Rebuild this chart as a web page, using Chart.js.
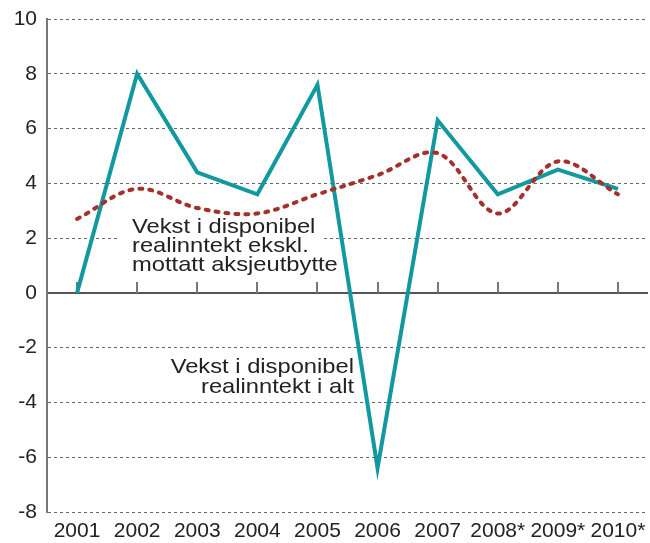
<!DOCTYPE html>
<html>
<head>
<meta charset="utf-8">
<script src="https://cdn.jsdelivr.net/npm/chart.js@4/dist/chart.umd.min.js"></script>
<style>
  html, body { margin: 0; padding: 0; background: #fff; }
  canvas { display: block; }
</style>
</head>
<body>
<canvas id="chart" width="650" height="543"></canvas>
<script>
const years = ['2001', '2002', '2003', '2004', '2005', '2006', '2007', '2008*', '2009*', '2010*'];
const totalGrowth = [0, 8, 4.4, 3.6, 7.6, -6.4, 6.3, 3.6, 4.5, 3.8];
const exDividends = [2.7, 3.8, 3.1, 2.9, 3.6, 4.3, 5.1, 2.9, 4.8, 3.6];
const yMin = -8;
const yMax = 10;
const yStep = 2;

const labelExDiv = ['Vekst i disponibel', 'realinntekt ekskl.', 'mottatt aksjeutbytte'];
const labelTotal = ['Vekst i disponibel', 'realinntekt i alt'];

const textColor = '#222';
const font = 'Arial, "Liberation Sans", sans-serif';

// text in the notes is a bit wider than the axis labels
function drawNote(ctx, lines, x, y, lineGap, align) {
  const stretch = 1.13;
  ctx.save();
  ctx.translate(x, y);
  ctx.scale(stretch, 1);
  ctx.textAlign = align;
  lines.forEach((t, i) => ctx.fillText(t, 0, i * lineGap));
  ctx.restore();
}

// zero axis ticks, white box behind first note, and the notes
const decorations = {
  id: 'decorations',
  beforeDatasetsDraw(chart) {
    const { ctx, scales: { x, y } } = chart;
    const y0 = y.getPixelForValue(0);
    ctx.save();
    ctx.strokeStyle = '#777';
    ctx.lineWidth = 2;
    years.forEach((_, i) => {
      const px = Math.round(x.getPixelForValue(i));
      ctx.beginPath();
      ctx.moveTo(px, y0 - 11);
      ctx.lineTo(px, y0);
      ctx.stroke();
    });
    ctx.fillStyle = '#fff';
    ctx.fillRect(117, 213, 206, 64);
    ctx.restore();
  },
  afterDatasetsDraw(chart) {
    const { ctx } = chart;
    ctx.save();
    ctx.fillStyle = textColor;
    ctx.font = '21px ' + font;
    ctx.textBaseline = 'alphabetic';
    drawNote(ctx, labelExDiv, 132, 233, 19, 'left');
    drawNote(ctx, labelTotal, 354, 373, 20, 'right');
    ctx.restore();
  }
};

new Chart(document.getElementById('chart'), {
  type: 'line',
  data: {
    labels: years,
    datasets: [
      {
        label: 'Vekst i disponibel realinntekt ekskl. mottatt aksjeutbytte',
        data: exDividends,
        borderColor: '#a3302a',
        borderWidth: 4,
        borderDash: [3, 7],
        borderCapStyle: 'round',
        tension: 0.35,
        pointRadius: 0,
        fill: false,
      },
      {
        label: 'Vekst i disponibel realinntekt i alt',
        data: totalGrowth,
        borderColor: '#12989f',
        borderWidth: 4,
        tension: 0,
        pointRadius: 0,
        fill: false,
      },
    ],
  },
  options: {
    responsive: false,
    animation: false,
    layout: { padding: { top: 19, right: 2, left: 0, bottom: 0 } },
    scales: {
      x: {
        offset: true,
        grid: { display: false, drawTicks: false, tickLength: 0 },
        border: { display: false },
        ticks: {
          color: textColor,
          font: { size: 21, family: font },
          padding: 7,
          maxRotation: 0,
          autoSkip: false,
        },
        afterFit: (scale) => {
          scale.height = 31;
          scale.paddingLeft = 0;
          scale.paddingRight = 0;
        },
      },
      y: {
        min: yMin,
        max: yMax,
        ticks: {
          stepSize: yStep,
          color: textColor,
          font: { size: 21, family: font },
          padding: 10,
        },
        grid: {
          drawTicks: false,
          color: (ctx) => (ctx.tick && ctx.tick.value === 0 ? '#555' : '#666'),
          lineWidth: (ctx) => (ctx.tick && ctx.tick.value === 0 ? 2 : 1),
        },
        border: {
          display: true,
          color: '#777',
          width: 2,
          dash: (ctx) => (ctx.tick && ctx.tick.value !== 0 ? [3, 3] : []),
        },
        afterFit: (scale) => {
          scale.width = 47;
          scale.paddingTop = 0;
          scale.paddingBottom = 0;
        },
      },
    },
    plugins: {
      legend: { display: false },
      tooltip: { enabled: false },
    },
  },
  plugins: [decorations],
});
</script>
</body>
</html>
